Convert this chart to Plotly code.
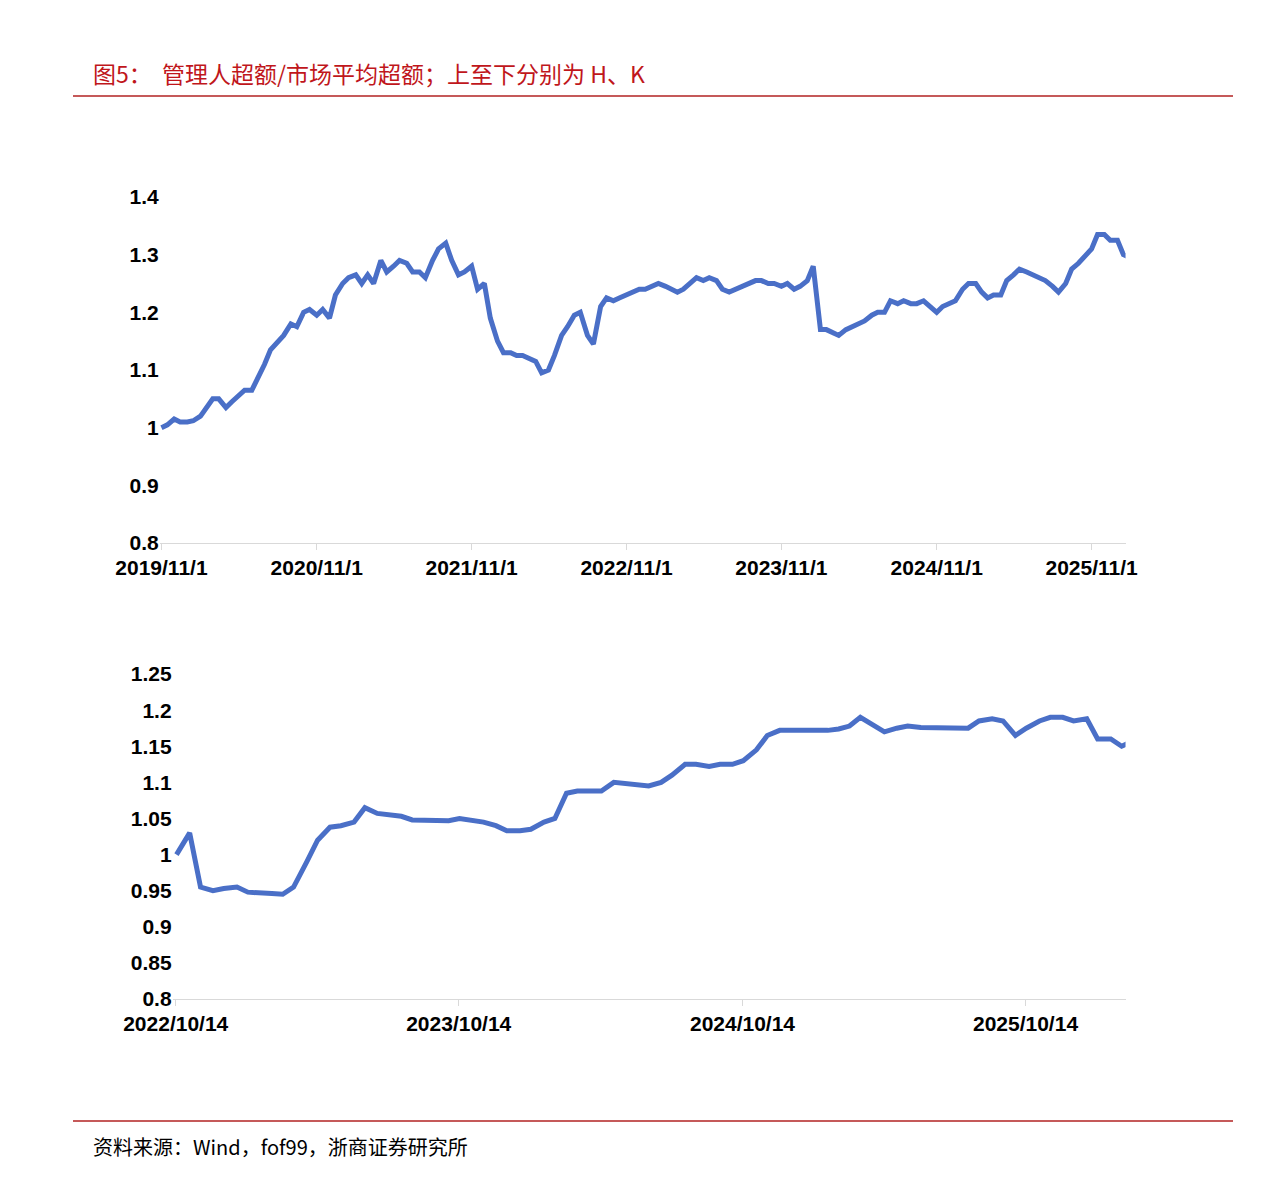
import pandas as pd
import plotly.graph_objects as go

# 上图 H：半月频
h_values = [
    1.00, 1.005, 1.015, 1.01, 1.01, 1.012, 1.02, 1.035, 1.05, 1.05,
    1.035, 1.045, 1.055, 1.065, 1.065, 1.085, 1.11, 1.135, 1.15, 1.16,
    1.18, 1.175, 1.20, 1.205, 1.195, 1.205, 1.19, 1.23, 1.25, 1.26,
    1.265, 1.25, 1.265, 1.25, 1.29, 1.27, 1.28, 1.29, 1.285, 1.27,
    1.27, 1.26, 1.29, 1.31, 1.32, 1.29, 1.265, 1.27, 1.28, 1.24,
    1.25, 1.19, 1.15, 1.13, 1.13, 1.125, 1.125, 1.12, 1.115, 1.095,
    1.10, 1.125, 1.16, 1.175, 1.195, 1.20, 1.16, 1.145, 1.21, 1.225,
    1.22, 1.225, 1.23, 1.235, 1.24, 1.24, 1.245, 1.25, 1.245, 1.24,
    1.235, 1.24, 1.25, 1.26, 1.255, 1.26, 1.255, 1.24, 1.235, 1.24,
    1.245, 1.25, 1.255, 1.255, 1.25, 1.25, 1.245, 1.25, 1.24, 1.245,
    1.255, 1.28, 1.17, 1.17, 1.165, 1.16, 1.17, 1.175, 1.18, 1.185,
    1.195, 1.20, 1.20, 1.22, 1.215, 1.22, 1.215, 1.215, 1.22, 1.21,
    1.20, 1.21, 1.215, 1.22, 1.24, 1.25, 1.25, 1.235, 1.225, 1.23,
    1.23, 1.255, 1.265, 1.275, 1.27, 1.265, 1.26, 1.255, 1.245, 1.235,
    1.25, 1.275, 1.285, 1.295, 1.31, 1.335, 1.335, 1.325, 1.325, 1.30,
    1.295, 1.32, 1.325,
]
h_dates = pd.date_range("2019-11-01", periods=len(h_values), freq="SMS")

# 下图 K：半月频
k_values = [
    1.00, 1.03, 0.955, 0.95, 0.953, 0.955, 0.948, 0.946, 0.946, 0.945,
    0.955, 0.99, 1.02, 1.038, 1.04, 1.045, 1.065, 1.057, 1.055, 1.053,
    1.048, 1.048, 1.048, 1.047, 1.05, 1.047, 1.045, 1.04, 1.033, 1.033,
    1.035, 1.045, 1.05, 1.085, 1.088, 1.088, 1.088, 1.10, 1.098, 1.097,
    1.095, 1.10, 1.11, 1.125, 1.125, 1.122, 1.125, 1.125, 1.13, 1.145,
    1.165, 1.172, 1.172, 1.173, 1.173, 1.172, 1.174, 1.178, 1.19, 1.18,
    1.17, 1.175, 1.178, 1.176, 1.176, 1.175, 1.175, 1.175, 1.185, 1.188,
    1.185, 1.165, 1.175, 1.185, 1.19, 1.19, 1.185, 1.188, 1.16, 1.16,
    1.15, 1.157,
]
k_dates = pd.date_range("2022-10-15", periods=len(k_values), freq="SMS")

h_ticks = ["2019-11-01", "2020-11-01", "2021-11-01", "2022-11-01", "2023-11-01", "2024-11-01", "2025-11-01"]
h_ticktext = ["2019/11/1", "2020/11/1", "2021/11/1", "2022/11/1", "2023/11/1", "2024/11/1", "2025/11/1"]
k_ticks = ["2022-10-14", "2023-10-14", "2024-10-14", "2025-10-14"]
k_ticktext = ["2022/10/14", "2023/10/14", "2024/10/14", "2025/10/14"]

line_color = "#4a6fc7"
tick_font = dict(family="Liberation Sans, Arial", size=21, color="#000", weight="bold")

fig = go.Figure()
fig.add_trace(go.Scatter(x=h_dates, y=h_values, mode="lines", line=dict(color=line_color, width=5), xaxis="x", yaxis="y"))
fig.add_trace(go.Scatter(x=k_dates, y=k_values, mode="lines", line=dict(color=line_color, width=5), xaxis="x2", yaxis="y2"))

axis_common = dict(showgrid=False, zeroline=False, tickfont=tick_font, automargin=False)
fig.update_layout(
    width=1286, height=1190, autosize=False,
    margin=dict(l=0, r=0, t=0, b=0, pad=0),
    paper_bgcolor="white", plot_bgcolor="white",
    showlegend=False,
    xaxis=dict(domain=[0.118, 0.869], anchor="y", range=["2019-10-28", "2026-01-20"],
               tickvals=h_ticks, ticktext=h_ticktext, showline=True, linecolor="#d9d9d9",
               ticks="outside", tickcolor="#d9d9d9", ticklen=6, **axis_common),
    yaxis=dict(domain=[0.5504, 0.8412], anchor="x", range=[0.8, 1.4],
               tickvals=[0.8, 0.9, 1.0, 1.1, 1.2, 1.3, 1.4],
               ticktext=["0.8", "0.9", "1", "1.1", "1.2", "1.3", "1.4"], **axis_common),
    xaxis2=dict(domain=[0.128, 0.869], anchor="y2", range=["2022-10-10", "2026-02-20"],
                tickvals=k_ticks, ticktext=k_ticktext, showline=True, linecolor="#d9d9d9",
                ticks="outside", tickcolor="#d9d9d9", ticklen=6, **axis_common),
    yaxis2=dict(domain=[0.1672, 0.4403], anchor="x2", range=[0.8, 1.25],
                tickvals=[0.8, 0.85, 0.9, 0.95, 1.0, 1.05, 1.1, 1.15, 1.2, 1.25],
                ticktext=["0.8", "0.85", "0.9", "0.95", "1", "1.05", "1.1", "1.15", "1.2", "1.25"],
                **axis_common),
)

# 标题、分隔线、资料来源
fig.add_annotation(text="图5：  管理人超额/市场平均超额；上至下分别为 H、K", xref="paper", yref="paper",
                   x=83 / 1286, y=1 - 65 / 1190, xanchor="left", yanchor="middle", showarrow=False,
                   font=dict(family="Noto Sans CJK SC", size=23, color="#c0161b"))
fig.add_annotation(text="资料来源：Wind，fof99，浙商证券研究所", xref="paper", yref="paper",
                   x=83 / 1286, y=1 - 1138 / 1190, xanchor="left", yanchor="middle", showarrow=False,
                   font=dict(family="Noto Sans CJK SC", size=20, color="#000"))
for yy in [88, 1113]:
    fig.add_shape(type="line", xref="paper", yref="paper", x0=65 / 1286, x1=1225 / 1286,
                  y0=1 - yy / 1190, y1=1 - yy / 1190, line=dict(color="#b22222", width=1.5))

fig.write_html("out.html")
